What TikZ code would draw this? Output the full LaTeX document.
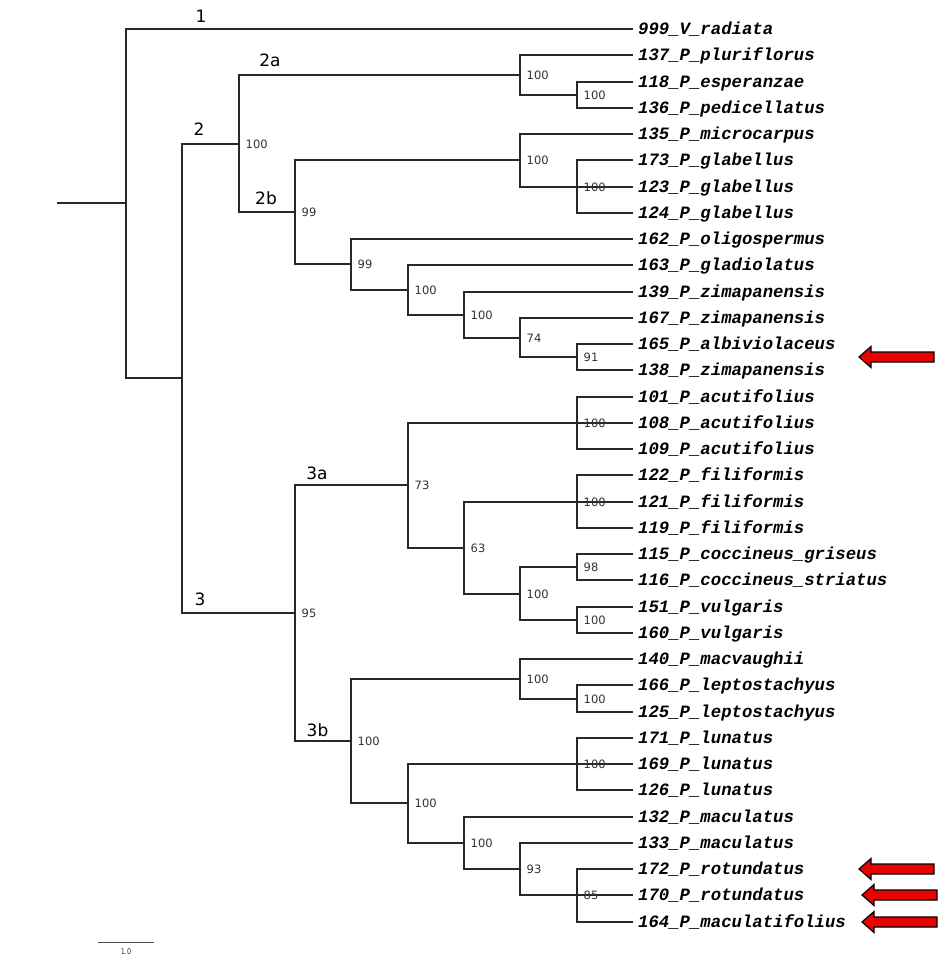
\documentclass[tikz,border=0pt]{standalone}
\usepackage{fontspec}
\setmainfont{DejaVu Sans}
\newfontfamily\leaffont{Liberation Mono}
\definecolor{arrowred}{RGB}{235,0,0}
\definecolor{branchgray}{RGB}{40,40,40}
\begin{document}
\begin{tikzpicture}[x=1pt,y=-1pt,
  br/.style={line width=2pt, draw=branchgray, line join=miter},
  leaf/.style={anchor=west, inner xsep=5pt, inner ysep=0pt,
    font=\leaffont\bfseries\itshape\fontsize{17.3}{18}\selectfont,
    text height=10.5pt, text depth=0pt},
  bs/.style={anchor=west, inner sep=0pt, font=\fontsize{11.5}{12}\selectfont,
    text=black!80, text height=8.4pt, text depth=0pt},
  clade/.style={anchor=south, inner sep=0pt, font=\fontsize{17}{18}\selectfont,
    text depth=0pt},
  redarrow/.pic={\filldraw[fill=arrowred, draw=black, line width=1.2pt, line join=miter]
    (0,0) -- (12,-10.5) -- (12,-5) -- (75,-5) -- (75,5) -- (12,5) -- (12,10.5) -- cycle;}
]
\useasboundingbox (0,0) rectangle (938,957);

% levels
\def\xa{126}\def\xb{182}\def\xc{239}\def\xd{295}\def\xe{351}
\def\xf{408}\def\xg{464}\def\xh{520}\def\xi{577}\def\xj{633}

% leaves
\node[leaf] (l1)  at (\xj,29)  {999\_V\_radiata};
\node[leaf] (l2)  at (\xj,55)  {137\_P\_pluriflorus};
\node[leaf] (l3)  at (\xj,82)  {118\_P\_esperanzae};
\node[leaf] (l4)  at (\xj,108) {136\_P\_pedicellatus};
\node[leaf] (l5)  at (\xj,134) {135\_P\_microcarpus};
\node[leaf] (l6)  at (\xj,160) {173\_P\_glabellus};
\node[leaf] (l7)  at (\xj,187) {123\_P\_glabellus};
\node[leaf] (l8)  at (\xj,213) {124\_P\_glabellus};
\node[leaf] (l9)  at (\xj,239) {162\_P\_oligospermus};
\node[leaf] (l10) at (\xj,265) {163\_P\_gladiolatus};
\node[leaf] (l11) at (\xj,292) {139\_P\_zimapanensis};
\node[leaf] (l12) at (\xj,318) {167\_P\_zimapanensis};
\node[leaf] (l13) at (\xj,344) {165\_P\_albiviolaceus};
\node[leaf] (l14) at (\xj,370) {138\_P\_zimapanensis};
\node[leaf] (l15) at (\xj,397) {101\_P\_acutifolius};
\node[leaf] (l16) at (\xj,423) {108\_P\_acutifolius};
\node[leaf] (l17) at (\xj,449) {109\_P\_acutifolius};
\node[leaf] (l18) at (\xj,475) {122\_P\_filiformis};
\node[leaf] (l19) at (\xj,502) {121\_P\_filiformis};
\node[leaf] (l20) at (\xj,528) {119\_P\_filiformis};
\node[leaf] (l21) at (\xj,554) {115\_P\_coccineus\_griseus};
\node[leaf] (l22) at (\xj,580) {116\_P\_coccineus\_striatus};
\node[leaf] (l23) at (\xj,607) {151\_P\_vulgaris};
\node[leaf] (l24) at (\xj,633) {160\_P\_vulgaris};
\node[leaf] (l25) at (\xj,659) {140\_P\_macvaughii};
\node[leaf] (l26) at (\xj,685) {166\_P\_leptostachyus};
\node[leaf] (l27) at (\xj,712) {125\_P\_leptostachyus};
\node[leaf] (l28) at (\xj,738) {171\_P\_lunatus};
\node[leaf] (l29) at (\xj,764) {169\_P\_lunatus};
\node[leaf] (l30) at (\xj,790) {126\_P\_lunatus};
\node[leaf] (l31) at (\xj,817) {132\_P\_maculatus};
\node[leaf] (l32) at (\xj,843) {133\_P\_maculatus};
\node[leaf] (l33) at (\xj,869) {172\_P\_rotundatus};
\node[leaf] (l34) at (\xj,895) {170\_P\_rotundatus};
\node[leaf] (l35) at (\xj,922) {164\_P\_maculatifolius};

% internal nodes
\coordinate (stub) at (57,203);
\coordinate (root) at (\xa,203);
\coordinate (n1)   at (\xb,378);
\coordinate (n2)   at (\xc,144);
\coordinate (n2a)  at (\xh,75);
\coordinate (nA)   at (\xi,95);
\coordinate (n2b)  at (\xd,212);
\coordinate (nM)   at (\xh,160);
\coordinate (nG)   at (\xi,187);
\coordinate (nF)   at (\xe,264);
\coordinate (nE)   at (\xf,290);
\coordinate (nD)   at (\xg,315);
\coordinate (nC)   at (\xh,338);
\coordinate (nB)   at (\xi,357);
\coordinate (n3)   at (\xd,613);
\coordinate (n3a)  at (\xf,485);
\coordinate (nAcu) at (\xi,423);
\coordinate (nI)   at (\xg,548);
\coordinate (nFil) at (\xi,502);
\coordinate (nH)   at (\xh,594);
\coordinate (nCoc) at (\xi,567);
\coordinate (nVul) at (\xi,620);
\coordinate (n3b)  at (\xe,741);
\coordinate (nMac) at (\xh,679);
\coordinate (nLep) at (\xi,699);
\coordinate (nL)   at (\xf,803);
\coordinate (nLun) at (\xi,764);
\coordinate (nK)   at (\xg,843);
\coordinate (nJ)   at (\xh,869);
\coordinate (nRot) at (\xi,895);

% branches
\draw[br] (stub) -- (root);
\draw[br] (root) |- (l1.west);  \draw[br] (root) |- (n1);
\draw[br] (n1) |- (n2);         \draw[br] (n1) |- (n3);
\draw[br] (n2) |- (n2a);        \draw[br] (n2) |- (n2b);
\draw[br] (n2a) |- (l2.west);   \draw[br] (n2a) |- (nA);
\draw[br] (nA) |- (l3.west);    \draw[br] (nA) |- (l4.west);
\draw[br] (n2b) |- (nM);        \draw[br] (n2b) |- (nF);
\draw[br] (nM) |- (l5.west);    \draw[br] (nM) |- (nG);
\draw[br] (nG) |- (l6.west);    \draw[br] (nG) |- (l7.west); \draw[br] (nG) |- (l8.west);
\draw[br] (nF) |- (l9.west);    \draw[br] (nF) |- (nE);
\draw[br] (nE) |- (l10.west);   \draw[br] (nE) |- (nD);
\draw[br] (nD) |- (l11.west);   \draw[br] (nD) |- (nC);
\draw[br] (nC) |- (l12.west);   \draw[br] (nC) |- (nB);
\draw[br] (nB) |- (l13.west);   \draw[br] (nB) |- (l14.west);
\draw[br] (n3) |- (n3a);        \draw[br] (n3) |- (n3b);
\draw[br] (n3a) |- (nAcu);      \draw[br] (n3a) |- (nI);
\draw[br] (nAcu) |- (l15.west); \draw[br] (nAcu) |- (l16.west); \draw[br] (nAcu) |- (l17.west);
\draw[br] (nI) |- (nFil);       \draw[br] (nI) |- (nH);
\draw[br] (nFil) |- (l18.west); \draw[br] (nFil) |- (l19.west); \draw[br] (nFil) |- (l20.west);
\draw[br] (nH) |- (nCoc);       \draw[br] (nH) |- (nVul);
\draw[br] (nCoc) |- (l21.west); \draw[br] (nCoc) |- (l22.west);
\draw[br] (nVul) |- (l23.west); \draw[br] (nVul) |- (l24.west);
\draw[br] (n3b) |- (nMac);      \draw[br] (n3b) |- (nL);
\draw[br] (nMac) |- (l25.west); \draw[br] (nMac) |- (nLep);
\draw[br] (nLep) |- (l26.west); \draw[br] (nLep) |- (l27.west);
\draw[br] (nL) |- (nLun);       \draw[br] (nL) |- (nK);
\draw[br] (nLun) |- (l28.west); \draw[br] (nLun) |- (l29.west); \draw[br] (nLun) |- (l30.west);
\draw[br] (nK) |- (l31.west);   \draw[br] (nK) |- (nJ);
\draw[br] (nJ) |- (l32.west);   \draw[br] (nJ) |- (nRot);
\draw[br] (nRot) |- (l33.west); \draw[br] (nRot) |- (l34.west); \draw[br] (nRot) |- (l35.west);

% bootstrap values
\foreach \n/\v in {n2/100,n2a/100,nA/100,n2b/99,nM/100,nG/100,nF/99,nE/100,nD/100,
  nC/74,nB/91,n3/95,n3a/73,nAcu/100,nI/63,nFil/100,nH/100,nCoc/98,nVul/100,
  n3b/100,nMac/100,nLep/100,nL/100,nLun/100,nK/100,nJ/93,nRot/85}
  \node[bs] (bs-\n) at ([xshift=6.5pt]\n) {\v};

% clade labels
\node[clade] (c1)  at (201,23)  {1};
\node[clade] (c2)  at (199,135.5) {2};
\node[clade] (c2a) at (270,67)  {2a};
\node[clade] (c2b) at (266,204.3) {2b};
\node[clade] (c3)  at (200,606) {3};
\node[clade] (c3a) at (317,479.5) {3a};
\node[clade] (c3b) at (317.5,736.5) {3b};

% scale bar
\coordinate (sb1) at (98,942);
\coordinate (sb2) at (154,942);
\draw[line width=1pt, draw=black!70] (sb1) -- (sb2);
\node[anchor=north, inner sep=0pt, xscale=0.8, font=\fontsize{8}{8}\selectfont, text=black!80] (sbt) at (126,948) {1.0};

% red arrows
\pic at (859,357) {redarrow};
\pic at (859,869) {redarrow};
\pic at (862,895) {redarrow};
\pic at (862,922) {redarrow};
\end{tikzpicture}
\end{document}
